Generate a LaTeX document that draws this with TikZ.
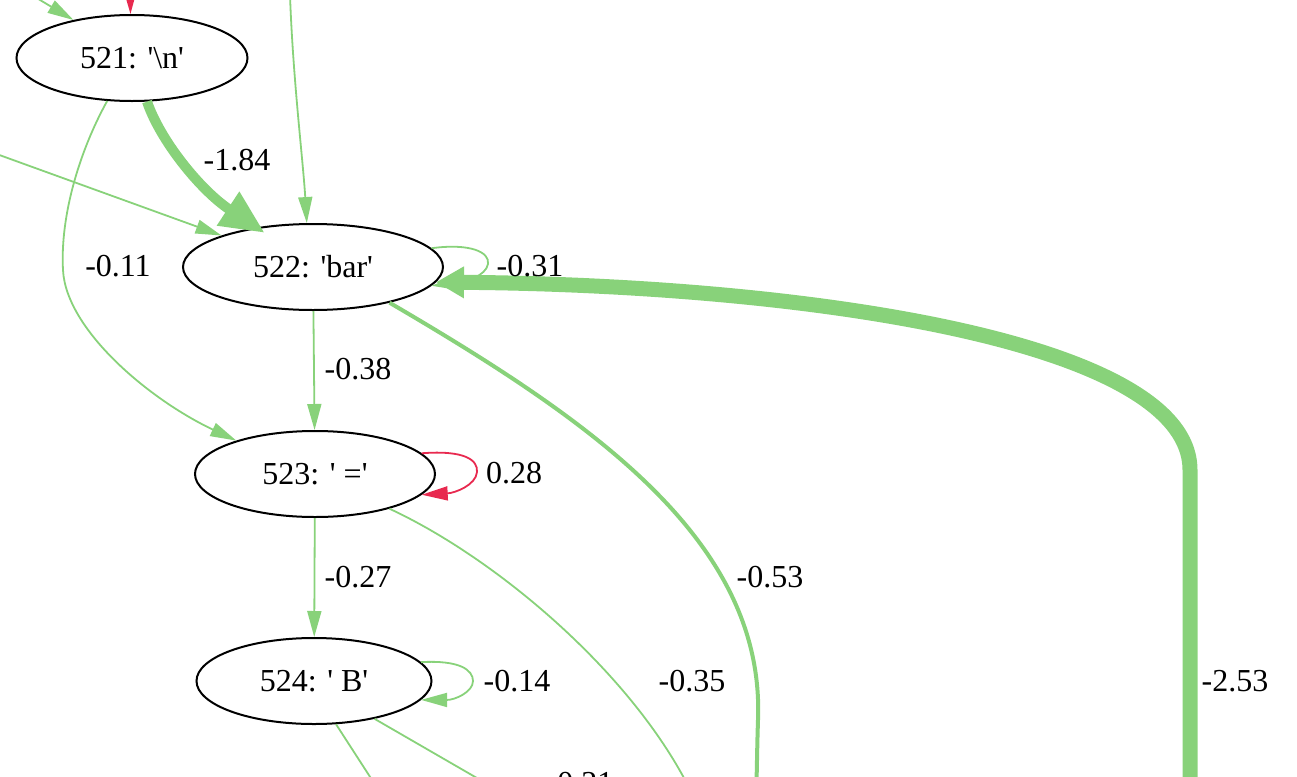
\documentclass[tikz,border=0pt]{standalone}
\usepackage{fontspec}
\setmainfont{Liberation Serif}
\usetikzlibrary{shapes.geometric,arrows.meta}
\definecolor{posgreen}{HTML}{88D27A}
\definecolor{negred}{HTML}{E8294F}
\newcommand{\sq}{\textquotesingle}

\begin{document}
\begin{tikzpicture}[x=0.5pt,y=-0.5pt,
    tok/.style={draw,ellipse,line width=1pt,inner sep=0pt,minimum height=43pt,font=\fontsize{16}{19}\selectfont},
    lbl/.style={inner sep=0pt,font=\fontsize{16}{19}\selectfont},
    lightline/.style={draw=posgreen,line width=0.9pt},
    lightedge/.style={lightline,-{Triangle[length=13pt,width=7pt]}},
    midline/.style={draw=posgreen,line width=2pt},
    heavyedge/.style={draw=posgreen,line width=5pt,-{Triangle[length=22pt,width=19pt]}},
    hugeedge/.style={draw=posgreen,line width=7.5pt,-{Triangle[length=14pt,width=15pt]}},
    rededge/.style={draw=negred,line width=0.9pt,-{Triangle[length=13pt,width=7pt]}}]
    \useasboundingbox (0,0) rectangle (1297,777);
    \clip (0,0) rectangle (1297,777);

    % tokens
    \node[tok,minimum width=115.5pt] (n521) at (132,58) {521: \sq\textbackslash n\sq};
    \node[tok,minimum width=130pt] (n522) at (313,267) {522: \sq bar\sq};
    \node[tok,minimum width=120pt] (n523) at (315,474) {523: \sq\ =\sq};
    \node[tok,minimum width=117.5pt] (n524) at (314,681) {524: \sq\ B\sq};

    % ends outside the crop
    \coordinate (inA) at (25,-9);
    \coordinate (inB) at (130,-40);
    \coordinate (inC) at (290,-5);
    \coordinate (inD) at (-20,148);
    \coordinate (inE) at (1190,800);
    \coordinate (outA) at (756,800);
    \coordinate (outB) at (695,800);
    \coordinate (outC) at (385,800);
    \coordinate (outD) at (515,800);

    % edges
    \draw[lightedge] (inA) -- (n521.147);
    \draw[rededge] (inB) -- (n521.92);
    \draw[lightedge] (inC) .. controls (293,80) and (303,160) .. (n522.98);
    \draw[heavyedge,shorten >=-5pt] (n521.-71) .. controls (160,140) and (200,190) .. (n522.145);
    \draw[lightedge] (n521.-120) .. controls (80,150) and (60,215) .. (63,270)
        .. controls (66,330) and (150,400) .. (n523.157);
    \draw[lightedge] (inD) -- (n522.161);
    \draw[lightedge] (n522.9) .. controls (470,243) and (490,252) .. (488,264)
        .. controls (486,276) and (465,282) .. (n522.-9);
    \draw[hugeedge] (inE) -- (1190,470) .. controls (1190,340) and (800,285) .. (n522.-7);
    \draw[lightedge] (n522) -- (n523);
    \draw[midline] (n522.-25) .. controls (590,420) and (765,540) .. (758,720)
        .. controls (757,750) and (757,770) .. (outA);
    \draw[rededge] (n523.11) .. controls (465,450) and (478,460) .. (477,472)
        .. controls (476,485) and (455,493) .. (n523.-11);
    \draw[lightedge] (n523) -- (n524);
    \draw[lightline] (n523.-25) .. controls (500,560) and (640,680) .. (outB);
    \draw[lightedge] (n524.10) .. controls (460,660) and (473,670) .. (473,681)
        .. controls (473,692) and (455,700) .. (n524.-10);
    \draw[lightline] (n524.-63) -- (outC);
    \draw[lightline] (n524.-32) -- (outD);

    % weights
    \node[lbl] (w184) at (237,160) {-1.84};
    \node[lbl] (w011) at (118,266) {-0.11};
    \node[lbl] (w031) at (530,266) {-0.31};
    \node[lbl] (w038) at (358,369) {-0.38};
    \node[lbl] (w028) at (514,473) {0.28};
    \node[lbl] (w027) at (358,577) {-0.27};
    \node[lbl] (w053) at (770,577) {-0.53};
    \node[lbl] (w014) at (517,681) {-0.14};
    \node[lbl] (w035) at (692,681) {-0.35};
    \node[lbl] (w253) at (1235,681) {-2.53};
    \node[lbl] (w021) at (580,783) {-0.21};
\end{tikzpicture}
\end{document}
